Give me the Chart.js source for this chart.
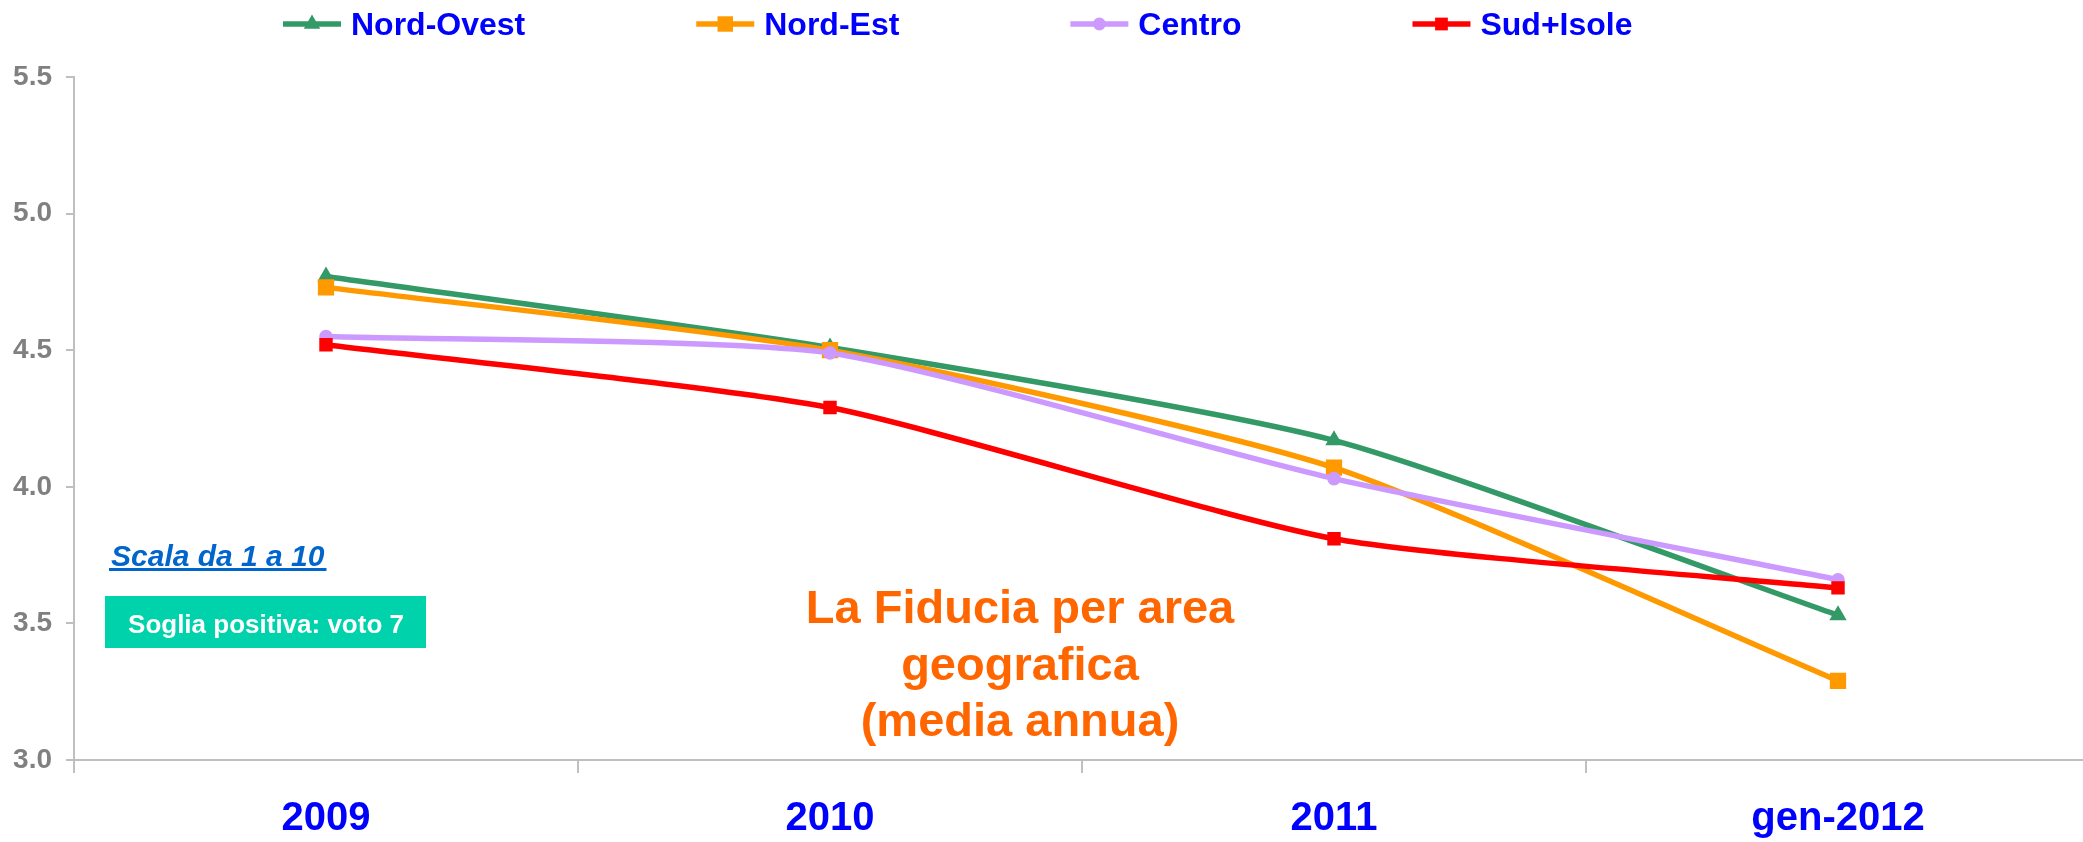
<!DOCTYPE html>
<html><head><meta charset="utf-8">
<script src="https://cdn.jsdelivr.net/npm/chart.js@4/dist/chart.umd.min.js"></script>
<style>html,body{margin:0;padding:0;background:#fff;overflow:hidden;width:2083px;height:842px}canvas{display:block}</style>
</head><body>
<canvas id="c" width="2090" height="842"></canvas>
<script>
const categories = ['2009', '2010', '2011', 'gen-2012'];
const seriesNames = ['Nord-Ovest', 'Nord-Est', 'Centro', 'Sud+Isole'];
const nordOvest = [4.77, 4.51, 4.17, 3.53];
const nordEst = [4.73, 4.50, 4.07, 3.29];
const centro = [4.55, 4.49, 4.03, 3.66];
const sudIsole = [4.52, 4.29, 3.81, 3.63];
const yTicks = [3.0, 3.5, 4.0, 4.5, 5.0, 5.5];
const titleLines = ['La Fiducia per area', 'geografica', '(media annua)'];
const scaleNote = 'Scala da 1 a 10';
const thresholdNote = 'Soglia positiva: voto 7';

const FONT = "'Liberation Sans', Arial, sans-serif";
Chart.defaults.font.family = FONT;

const styles = [
  {color: '#339966', style: 'triangle', r: 10},
  {color: '#FF9900', style: 'rect', r: 11.5},
  {color: '#CC99FF', style: 'circle', r: 6.8},
  {color: '#FF0000', style: 'rect', r: 9.5}
];
const seriesData = [nordOvest, nordEst, centro, sudIsole];

const datasets = seriesNames.map((name, i) => ({
  label: name,
  data: seriesData[i],
  borderColor: styles[i].color,
  backgroundColor: styles[i].color,
  pointBackgroundColor: styles[i].color,
  pointBorderColor: styles[i].color,
  pointBorderWidth: 0,
  pointStyle: styles[i].style,
  pointRadius: styles[i].r,
  borderWidth: 5.5,
  tension: 0.2,
  order: seriesNames.length - i,
  fill: false
}));

function drawMarker(ctx, style, r, x, y, color) {
  ctx.save();
  ctx.fillStyle = color;
  ctx.beginPath();
  if (style === 'triangle') {
    ctx.moveTo(x, y - r);
    ctx.lineTo(x + Math.sin(2 * Math.PI / 3) * r, y - Math.cos(2 * Math.PI / 3) * r);
    ctx.lineTo(x + Math.sin(4 * Math.PI / 3) * r, y - Math.cos(4 * Math.PI / 3) * r);
    ctx.closePath();
  } else if (style === 'rect') {
    const s = Math.SQRT1_2 * r;
    ctx.rect(x - s, y - s, 2 * s, 2 * s);
  } else {
    ctx.arc(x, y, r, 0, Math.PI * 2);
  }
  ctx.fill();
  ctx.restore();
}

const overlay = {
  id: 'overlay',
  afterDraw(chart) {
    const ctx = chart.ctx;
    ctx.save();
    // legend
    ctx.font = 'bold 32px ' + FONT;
    let x = 283;
    const ly = 24;
    seriesNames.forEach((name, i) => {
      ctx.strokeStyle = styles[i].color;
      ctx.lineWidth = 5.5;
      ctx.beginPath();
      ctx.moveTo(x, ly);
      ctx.lineTo(x + 58, ly);
      ctx.stroke();
      drawMarker(ctx, styles[i].style, styles[i].r * 0.95, x + 29, ly, styles[i].color);
      ctx.fillStyle = '#0000FF';
      ctx.textAlign = 'left';
      ctx.textBaseline = 'alphabetic';
      ctx.fillText(name, x + 68, 34.5);
      x += 68 + ctx.measureText(name).width + 171;
    });
    // title
    ctx.fillStyle = '#FF6600';
    ctx.font = 'bold 47px ' + FONT;
    ctx.textAlign = 'center';
    ctx.textBaseline = 'alphabetic';
    titleLines.forEach((t, i) => ctx.fillText(t, 1020, 623 + i * 56.5));
    // scale note
    ctx.fillStyle = '#0066CC';
    ctx.font = 'italic bold 30px ' + FONT;
    ctx.textAlign = 'left';
    ctx.fillText(scaleNote, 111, 566);
    const w = ctx.measureText(scaleNote).width;
    ctx.fillRect(109, 568, w + 4, 3);
    // threshold box
    ctx.fillStyle = '#00D3AB';
    ctx.fillRect(105, 596, 321, 52);
    ctx.fillStyle = '#FFFFFF';
    ctx.font = 'bold 26px ' + FONT;
    ctx.textAlign = 'center';
    ctx.fillText(thresholdNote, 266, 633);
    ctx.restore();
  }
};

new Chart(document.getElementById('c'), {
  type: 'line',
  data: {labels: categories, datasets},
  options: {
    responsive: false,
    animation: false,
    devicePixelRatio: 1,
    layout: {autoPadding: false, padding: {top: 77, right: 0, bottom: 0, left: 0}},
    plugins: {legend: {display: false}, tooltip: {enabled: false}, title: {display: false}},
    scales: {
      x: {
        type: 'category',
        offset: true,
        grid: {display: true, drawOnChartArea: false, drawTicks: true, tickLength: 13, color: '#BFBFBF', lineWidth: 2, offset: true},
        border: {display: true, color: '#BFBFBF', width: 2},
        ticks: {color: '#0000FF', font: {size: 40, weight: 'bold'}, padding: 22, maxRotation: 0, autoSkip: false},
        afterFit: s => { s.height = 82; }
      },
      y: {
        min: 3, max: 5.5,
        afterBuildTicks: s => { s.ticks = yTicks.map(v => ({value: v})); },
        ticks: {callback: v => Number(v).toFixed(1), color: '#808080', font: {size: 28, weight: 'bold'}, padding: 14},
        grid: {display: true, drawOnChartArea: false, drawTicks: true, tickLength: 8, color: '#BFBFBF', lineWidth: 2},
        border: {display: true, color: '#BFBFBF', width: 2},
        afterFit: s => { s.width = 74; }
      }
    }
  },
  plugins: [overlay]
});
</script>
</body></html>
